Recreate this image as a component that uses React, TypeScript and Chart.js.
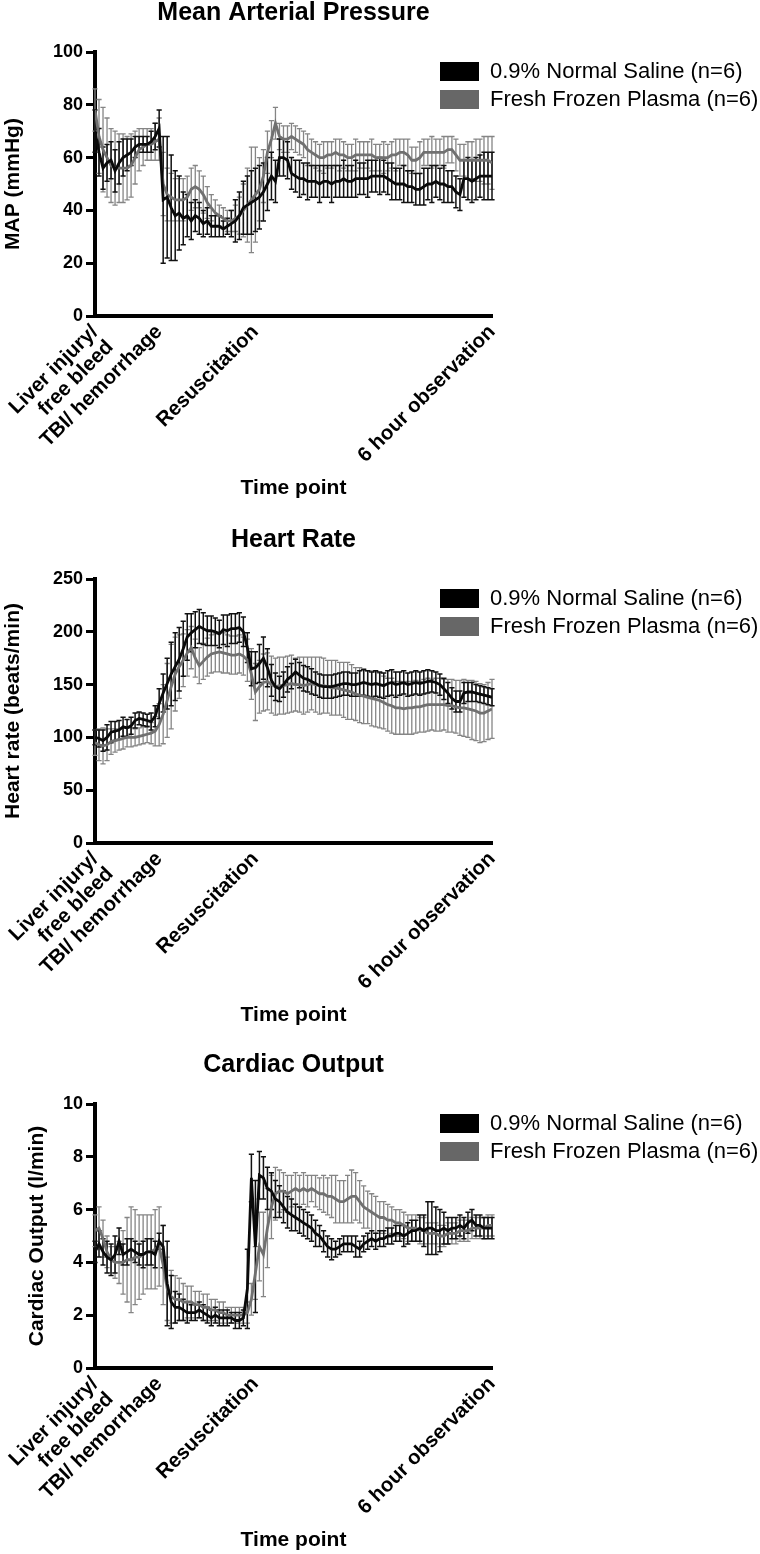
import React, { useEffect, useRef } from 'react';
import { Chart, registerables } from 'chart.js';

Chart.register(...registerables);

const FONT = "'Liberation Sans', Arial, Helvetica, sans-serif";
Chart.defaults.font.family = FONT;
Chart.defaults.color = '#000';

// ---- shared axis / legend text ----
const SERIES_LABELS = ['0.9% Normal Saline (n=6)', 'Fresh Frozen Plasma (n=6)'];
const X_TICK_POSITIONS = [0, 16, 40, 99];
const X_TICK_LABELS: (string | string[])[] = [
  ['Liver injury/', 'free bleed'],
  'TBI/ hemorrhage',
  'Resuscitation',
  '6 hour observation',
];
const X_TITLE = 'Time point';

// ---- Mean Arterial Pressure (mmHg) ----
const MAP_NS = [
  70, 62, 56, 58, 59, 55, 58, 60, 61, 62,
  64, 65, 65, 65, 66, 68, 71, 44, 45, 41,
  38, 39, 37, 38, 36, 38, 37, 35, 36, 34,
  34, 34, 33, 34, 35, 36, 38, 41, 42, 43,
  44, 45, 47, 50, 53, 51, 60, 60, 59, 54,
  53, 52, 52, 51, 51, 51, 50, 51, 51, 50,
  51, 51, 52, 51, 51, 52, 52, 52, 52, 53,
  53, 53, 53, 52, 51, 50, 50, 50, 49, 49,
  48, 48, 49, 50, 50, 51, 50, 50, 49, 49,
  47, 46, 52, 52, 51, 52, 53, 53, 53, 53,
];
const MAP_NS_SD = [
  8, 9, 8, 7, 7, 8, 8, 7, 6, 5,
  4, 3, 3, 3, 4, 5, 7, 24, 23, 20,
  17, 14, 10, 8, 7, 6, 6, 5, 5, 4,
  4, 4, 3, 3, 5, 8, 9, 10, 11, 12,
  12, 12, 11, 10, 9, 8, 7, 7, 7, 6,
  6, 7, 6, 7, 6, 6, 7, 6, 6, 7,
  6, 6, 7, 6, 6, 7, 6, 6, 7, 6,
  6, 7, 6, 6, 7, 6, 6, 7, 6, 6,
  6, 6, 7, 6, 7, 6, 6, 7, 6, 6,
  6, 6, 7, 8, 8, 8, 8, 9, 9, 9,
];
const MAP_FFP = [
  78, 68, 63, 60, 57, 56, 56, 56, 56, 57,
  60, 63, 64, 65, 65, 66, 67, 50, 46, 45,
  44, 44, 44, 45, 48, 49, 48, 46, 43, 41,
  39, 38, 37, 36, 36, 37, 38, 40, 42, 44,
  46, 48, 53, 62, 67, 73, 68, 67, 67, 68,
  67, 66, 65, 63, 62, 61, 60, 60, 61, 61,
  62, 61, 61, 60, 60, 61, 61, 61, 61, 61,
  60, 60, 60, 60, 61, 61, 62, 62, 61, 59,
  59, 60, 62, 62, 62, 62, 62, 62, 63, 63,
  61, 59, 59, 59, 59, 59, 59, 59, 59, 58,
];
const MAP_FFP_SD = [
  8, 14, 16, 15, 14, 14, 13, 13, 12, 12,
  10, 8, 7, 6, 6, 7, 8, 12, 10, 9,
  8, 8, 8, 8, 8, 8, 7, 7, 6, 5,
  5, 4, 4, 4, 4, 5, 7, 10, 14, 20,
  18, 12, 10, 8, 7, 6, 5, 5, 5, 5,
  5, 5, 5, 6, 5, 5, 5, 6, 5, 5,
  5, 6, 5, 5, 5, 6, 5, 5, 5, 6,
  5, 5, 6, 5, 5, 6, 5, 5, 6, 5,
  5, 6, 5, 5, 6, 5, 5, 6, 5, 5,
  6, 6, 6, 7, 7, 8, 8, 9, 9, 10,
];

// ---- Heart rate (beats/min) ----
const HR_NS = [
  100, 99, 97, 100, 105, 106, 107, 110, 109, 111,
  116, 118, 117, 116, 115, 120, 132, 142, 151, 160,
  167, 174, 184, 195, 199, 202, 205, 203, 201, 201,
  200, 198, 202, 201, 203, 203, 204, 200, 185, 165,
  166, 170, 175, 166, 154, 148, 146, 150, 155, 158,
  162, 159, 156, 155, 153, 151, 149, 148, 148, 148,
  149, 150, 151, 151, 150, 150, 151, 152, 151, 150,
  151, 150, 149, 151, 152, 150, 151, 152, 150, 151,
  152, 151, 152, 153, 153, 152, 150, 146, 142, 137,
  134, 134, 142, 143, 143, 142, 141, 140, 139, 138,
];
const HR_NS_SD = [
  7, 8, 10, 12, 10, 9, 9, 9, 8, 8,
  7, 6, 6, 6, 8, 10, 14, 18, 24, 30,
  32, 30, 26, 22, 18, 17, 16, 15, 14, 14,
  13, 13, 14, 15, 14, 14, 14, 14, 14, 16,
  15, 18, 20, 18, 15, 13, 12, 12, 12, 12,
  12, 12, 12, 12, 12, 11, 11, 11, 11, 11,
  11, 11, 11, 11, 11, 11, 12, 12, 12, 12,
  12, 12, 12, 12, 12, 12, 11, 11, 11, 11,
  11, 11, 11, 11, 10, 10, 10, 10, 10, 10,
  10, 10, 10, 9, 9, 8, 8, 8, 8, 8,
];
const HR_FFP = [
  95, 93, 92, 93, 96, 97, 98, 99, 100, 100,
  100, 101, 102, 103, 104, 106, 112, 122, 135, 148,
  160, 167, 173, 180, 185, 175, 168, 172, 176, 179,
  180, 181, 180, 179, 178, 178, 179, 177, 173, 160,
  143, 148, 152, 153, 150, 148, 149, 149, 150, 151,
  150, 150, 149, 150, 151, 150, 149, 149, 148, 147,
  147, 146, 145, 144, 143, 141, 140, 139, 138, 137,
  136, 135, 133, 131, 130, 128, 128, 127, 128, 128,
  129, 129, 130, 131, 131, 131, 131, 131, 130, 130,
  129, 128, 128, 127, 126, 125, 123, 123, 125, 127,
];
const HR_FFP_SD = [
  12, 15, 17, 15, 12, 11, 10, 10, 9, 9,
  8, 8, 8, 8, 10, 14, 20, 28, 35, 40,
  35, 30, 25, 22, 20, 18, 17, 17, 18, 18,
  18, 19, 19, 18, 18, 18, 18, 18, 20, 24,
  27, 25, 27, 27, 27, 27, 27, 27, 27, 27,
  25, 26, 27, 26, 25, 26, 27, 26, 25, 26,
  26, 25, 26, 27, 26, 25, 26, 26, 25, 26,
  26, 26, 25, 25, 26, 25, 25, 24, 25, 25,
  25, 24, 25, 25, 24, 25, 25, 24, 25, 25,
  25, 26, 27, 27, 28, 28, 28, 27, 27, 28,
];

// ---- Cardiac output (l/min) ----
const CO_NS = [
  4.4, 4.7, 4.4, 4.2, 4.1, 4.3, 4.8, 4.3, 4.4, 4.5,
  4.4, 4.3, 4.3, 4.4, 4.4, 4.3, 4.8, 4.6, 3.2, 2.5,
  2.3, 2.3, 2.2, 2.1, 2.1, 2.1, 2.2, 2.1, 2.0, 1.9,
  2.0, 1.9, 1.9, 1.9, 1.9, 1.8, 1.8, 1.9, 3.0, 7.2,
  4.6, 7.3, 7.2, 6.8, 6.7, 6.4, 6.3, 6.1, 5.9, 5.8,
  5.7, 5.6, 5.5, 5.4, 5.3, 5.1, 5.0, 4.8, 4.6, 4.5,
  4.5, 4.6, 4.7, 4.7, 4.7, 4.6, 4.5, 4.7, 4.8, 4.9,
  4.8, 4.9, 4.9, 5.0, 5.0, 5.1, 5.1, 5.0, 5.1, 5.2,
  5.2, 5.3, 5.2, 5.3, 5.3, 5.2, 5.2, 5.3, 5.2, 5.3,
  5.3, 5.4, 5.3, 5.5, 5.6, 5.4, 5.4, 5.3, 5.3, 5.3,
];
const CO_NS_SD = [
  0.4, 0.5, 0.5, 0.6, 0.6, 0.7, 0.5, 0.4, 0.5, 0.4,
  0.4, 0.4, 0.5, 0.5, 0.5, 0.5, 0.3, 0.8, 1.6, 1.0,
  0.6, 0.5, 0.4, 0.4, 0.3, 0.3, 0.3, 0.3, 0.3, 0.3,
  0.3, 0.3, 0.3, 0.3, 0.2, 0.3, 0.3, 0.3, 1.5, 0.9,
  2.5, 0.9, 0.8, 0.8, 0.7, 0.7, 0.6, 0.6, 0.6, 0.6,
  0.5, 0.5, 0.5, 0.5, 0.5, 0.5, 0.4, 0.4, 0.4, 0.4,
  0.3, 0.3, 0.3, 0.3, 0.3, 0.4, 0.3, 0.3, 0.3, 0.3,
  0.3, 0.3, 0.3, 0.3, 0.3, 0.3, 0.3, 0.4, 0.4, 0.4,
  0.4, 0.5, 0.6, 1.0, 1.0, 0.9, 0.8, 0.6, 0.5, 0.4,
  0.4, 0.4, 0.4, 0.4, 0.4, 0.4, 0.4, 0.4, 0.4, 0.4,
];
const CO_FFP = [
  5.2, 5.3, 4.9, 4.4, 4.1, 4.0, 4.0, 4.0, 4.1, 4.1,
  4.2, 4.2, 4.3, 4.4, 4.4, 4.5, 4.6, 3.9, 3.0, 2.7,
  2.6, 2.6, 2.5, 2.5, 2.5, 2.4, 2.4, 2.3, 2.3, 2.2,
  2.2, 2.1, 2.1, 2.0, 2.0, 2.0, 2.0, 2.0, 2.1, 2.6,
  3.6, 4.6, 4.3, 5.3, 6.1, 6.6, 6.7, 6.7, 6.6, 6.7,
  6.8, 6.7, 6.8, 6.7, 6.8, 6.7, 6.6, 6.6, 6.5, 6.5,
  6.4, 6.3, 6.3, 6.4, 6.5, 6.5, 6.3, 6.1, 6.0, 5.9,
  5.8, 5.7, 5.7, 5.6, 5.6, 5.5, 5.5, 5.4, 5.3, 5.3,
  5.3, 5.2, 5.2, 5.1, 5.1, 5.1, 5.0, 5.0, 5.1, 5.1,
  5.1, 5.2, 5.2, 5.2, 5.3, 5.3, 5.3, 5.3, 5.4, 5.4,
];
const CO_FFP_SD = [
  0.6, 0.8, 0.7, 0.6, 0.5, 0.6, 0.8, 1.2, 1.6, 2.0,
  1.8, 1.6, 1.5, 1.4, 1.4, 1.5, 1.5, 1.5, 1.2, 1.0,
  0.9, 0.8, 0.7, 0.6, 0.6, 0.5, 0.5, 0.5, 0.5, 0.4,
  0.4, 0.4, 0.4, 0.3, 0.3, 0.3, 0.3, 0.3, 0.4, 0.6,
  1.0, 1.3, 1.6, 1.5, 1.2, 1.0, 0.8, 0.7, 0.7, 0.6,
  0.6, 0.6, 0.6, 0.6, 0.5, 0.6, 0.6, 0.7, 0.7, 0.8,
  0.9, 0.8, 0.8, 0.9, 1.0, 0.9, 0.8, 0.8, 0.7, 0.7,
  0.7, 0.6, 0.6, 0.6, 0.5, 0.5, 0.5, 0.5, 0.5, 0.5,
  0.5, 0.5, 0.5, 0.4, 0.4, 0.4, 0.4, 0.4, 0.4, 0.4,
  0.4, 0.4, 0.4, 0.4, 0.4, 0.4, 0.4, 0.4, 0.4, 0.4,
];

const TIME_INDEX = MAP_NS.map((_, i) => i);

const PANELS = [
  { top: 0, title: 'Mean Arterial Pressure', yTitle: 'MAP (mmHg)', yMax: 100, yStep: 20, yTitlePad: 0.4,
    ns: MAP_NS, nsSd: MAP_NS_SD, ffp: MAP_FFP, ffpSd: MAP_FFP_SD },
  { top: 527, title: 'Heart Rate', yTitle: 'Heart rate (beats/min)', yMax: 250, yStep: 50, yTitlePad: 0.4,
    ns: HR_NS, nsSd: HR_NS_SD, ffp: HR_FFP, ffpSd: HR_FFP_SD },
  { top: 1052, title: 'Cardiac Output', yTitle: 'Cardiac Output (l/min)', yMax: 10, yStep: 2, yTitlePad: 25,
    ns: CO_NS, nsSd: CO_NS_SD, ffp: CO_FFP, ffpSd: CO_FFP_SD },
];

const LEGEND_COLORS = ['#000000', '#676767'];

// draws mean ± SD whiskers from each dataset's errorBars array, via the chart's scales
const errorBarPlugin = {
  id: 'errorBars',
  beforeDatasetsDraw(chart: any) {
    const { ctx } = chart;
    const xs = chart.scales.x;
    const ys = chart.scales.y;
    const order = [1, 0];
    ctx.save();
    for (const di of order) {
      const ds: any = chart.data.datasets[di];
      if (!ds || !ds.errorBars) continue;
      ctx.strokeStyle = ds.errorColor;
      ctx.lineWidth = ds.errorWidth;
      ctx.beginPath();
      ds.data.forEach((p: any, i: number) => {
        const sd = ds.errorBars[i];
        const px = xs.getPixelForValue(p.x);
        const yt = ys.getPixelForValue(p.y + sd);
        const yb = ys.getPixelForValue(p.y - sd);
        ctx.moveTo(px, yt);
        ctx.lineTo(px, yb);
        ctx.moveTo(px - 2.6, yt);
        ctx.lineTo(px + 2.6, yt);
        ctx.moveTo(px - 2.6, yb);
        ctx.lineTo(px + 2.6, yb);
      });
      ctx.stroke();
    }
    ctx.restore();
  },
};

// moves the Chart.js legend to the top-right, beyond the plot's right edge
const legendPlacePlugin = {
  id: 'legendPlace',
  beforeDraw(chart: any) {
    const lg = chart.legend;
    if (!lg) return;
    const w = lg.width;
    const h = lg.height;
    lg.left = 434;
    lg.top = 54.5;
    lg.right = 434 + w;
    lg.bottom = 54.5 + h;
  },
};

function Panel({ cfg }: { cfg: any }) {
  const ref = useRef<HTMLCanvasElement | null>(null);
  useEffect(() => {
    if (!ref.current) return;
    const chart = new Chart(ref.current, {
      type: 'line',
      data: {
        datasets: [
          {
            label: SERIES_LABELS[0],
            data: cfg.ns.map((v: number, i: number) => ({ x: TIME_INDEX[i], y: v })),
            borderColor: '#0a0a0a',
            backgroundColor: LEGEND_COLORS[0],
            borderWidth: 2.8,
            pointRadius: 0,
            tension: 0,
            errorBars: cfg.nsSd,
            errorColor: '#111111',
            errorWidth: 1.5,
          } as any,
          {
            label: SERIES_LABELS[1],
            data: cfg.ffp.map((v: number, i: number) => ({ x: TIME_INDEX[i], y: v })),
            borderColor: '#707070',
            backgroundColor: LEGEND_COLORS[1],
            borderWidth: 2.8,
            pointRadius: 0,
            tension: 0,
            errorBars: cfg.ffpSd,
            errorColor: '#858585',
            errorWidth: 1.3,
          } as any,
        ],
      },
      options: {
        responsive: false,
        animation: false,
        devicePixelRatio: 1,
        events: [],
        layout: { padding: { left: 0, right: 268, top: 0, bottom: 0 } },
        plugins: {
          title: {
            display: true,
            text: cfg.title,
            fullSize: false,
            color: '#000',
            font: { family: FONT, size: 25, weight: 'bold', lineHeight: 1 },
            padding: { top: 0.5, bottom: 26.5 },
          },
          legend: {
            position: 'chartArea',
            align: 'start',
            labels: {
              boxWidth: 39,
              boxHeight: 19,
              padding: 6,
              color: '#000',
              font: { family: FONT, size: 22 },
              generateLabels: (c: any) =>
                c.data.datasets.map((ds: any, i: number) => ({
                  text: ds.label,
                  fillStyle: LEGEND_COLORS[i],
                  strokeStyle: LEGEND_COLORS[i],
                  lineWidth: 0,
                  hidden: false,
                  datasetIndex: i,
                })),
            },
          },
          tooltip: { enabled: false },
        },
        scales: {
          x: {
            type: 'linear',
            min: 0,
            max: TIME_INDEX[TIME_INDEX.length - 1],
            offset: false,
            grid: { display: false, drawTicks: false },
            border: { display: true, width: 4, color: '#000' },
            afterBuildTicks: (s: any) => {
              s.ticks = X_TICK_POSITIONS.map((v) => ({ value: v }));
            },
            ticks: {
              autoSkip: false,
              minRotation: 45,
              maxRotation: 45,
              padding: 5,
              color: '#000',
              font: { family: FONT, size: 20.5, weight: 'bold', lineHeight: 1.05 },
              callback: (_v: any, i: number) => X_TICK_LABELS[i],
            },
            title: {
              display: true,
              text: X_TITLE,
              color: '#000',
              font: { family: FONT, size: 21, weight: 'bold' },
              padding: { top: 0, bottom: 1.4 },
            },
            afterFit: (s: any) => {
              s.height = 186;
              s.paddingLeft = 0;
              s.paddingRight = 0;
            },
          },
          y: {
            min: 0,
            max: cfg.yMax,
            ticks: {
              stepSize: cfg.yStep,
              padding: 3,
              color: '#000',
              font: { family: FONT, size: 18, weight: 'bold' },
            },
            grid: {
              display: true,
              drawOnChartArea: false,
              drawTicks: true,
              tickLength: 9,
              tickWidth: 3,
              tickColor: '#000',
              lineWidth: 3,
              color: '#000',
            },
            border: { display: true, width: 4, color: '#000' },
            title: {
              display: true,
              text: cfg.yTitle,
              color: '#000',
              font: { family: FONT, size: 21, weight: 'bold' },
              padding: { top: cfg.yTitlePad, bottom: 0 },
            },
            afterFit: (s: any) => {
              s.width = 95;
              s.paddingTop = 0;
              s.paddingBottom = 0;
            },
          },
        },
      } as any,
      plugins: [errorBarPlugin, legendPlacePlugin],
    });
    return () => chart.destroy();
  }, [cfg]);
  return (
    <canvas
      ref={ref}
      width={760}
      height={502}
      style={{ position: 'absolute', left: 0, top: cfg.top, width: 760, height: 502 }}
    />
  );
}

export default function App() {
  return (
    <div style={{ position: 'absolute', left: 0, top: 0, width: 760, height: 1554, background: '#fff' }}>
      {PANELS.map((p) => (
        <Panel key={p.title} cfg={p} />
      ))}
    </div>
  );
}
